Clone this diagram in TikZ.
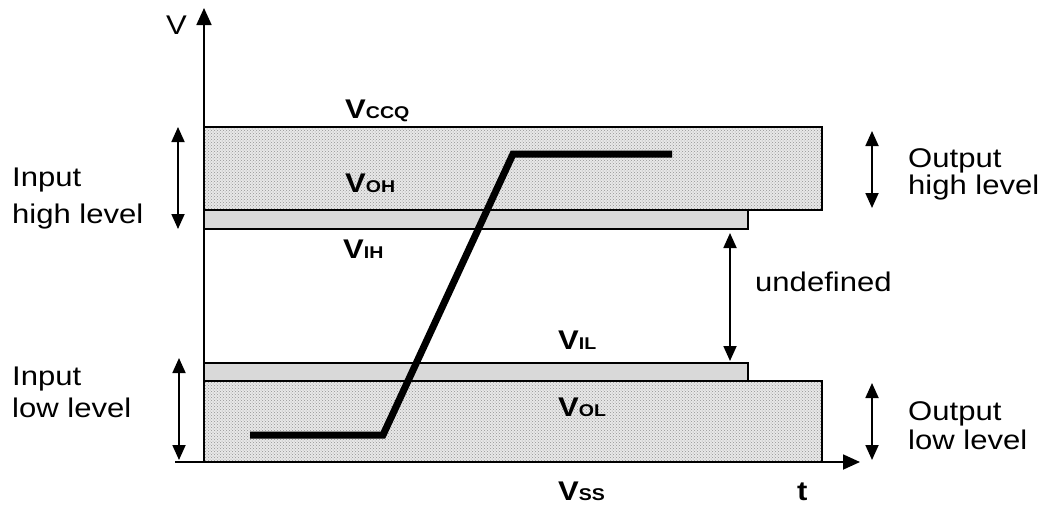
\documentclass[tikz,border=0pt]{standalone}
\usepackage{fontspec}
\setmainfont{Liberation Sans}[FakeStretch=1.15]
\usetikzlibrary{arrows.meta, patterns}

\newcommand{\volt}[1]{\textbf{V{\fontsize{17}{17}\selectfont #1}}}

\tikzset{
    lbl/.style={font=\fontsize{27}{27}\selectfont, inner sep=0pt, anchor=base west},
    vlbl/.style={font=\fontsize{27}{27}\selectfont, inner sep=0pt, anchor=base west},
    level/.style={draw=black, line width=1.5pt, preaction={fill=gray!18}, pattern=crosshatch dots, pattern color=gray!85},
    bar/.style={draw=black, line width=1.5pt, fill=gray!30},
    dbl/.style={{Triangle[length=15pt,width=13pt]}-{Triangle[length=15pt,width=13pt]}, line width=1.8pt},
    axis/.style={-{Triangle[length=17pt,width=15pt]}, line width=1.8pt}
}

\begin{document}
\begin{tikzpicture}[x=1pt, y=-1pt]
    \useasboundingbox (0,0) rectangle (1043,504);

    % Define the level bands
    \draw[level] (204,127) rectangle (822,210);
    \draw[bar] (204,210) rectangle (748,229);
    \draw[bar] (204,363) rectangle (748,381);
    \draw[level] (204,381) rectangle (822,462);

    % Draw the axes
    \coordinate (O) at (204,462);
    \coordinate (Vtop) at (204,8);
    \coordinate (Xl) at (175,462);
    \coordinate (Xr) at (860,462);
    \draw[axis] (O) -- (Vtop);
    \draw[axis] (Xl) -- (Xr);

    % Draw the signal edge
    \coordinate (S0) at (250,435);
    \coordinate (S1) at (383,435);
    \coordinate (S2) at (513,154);
    \coordinate (S3) at (672,154);
    \draw[line width=7pt, miter limit=10] (S0) -- (S1) -- (S2) -- (S3);

    % Draw the level arrows
    \coordinate (IH1) at (178,127);
    \coordinate (IH2) at (178,229);
    \coordinate (IL1) at (179,358);
    \coordinate (IL2) at (179,460);
    \coordinate (OH1) at (872,131);
    \coordinate (OH2) at (872,208);
    \coordinate (OL1) at (872,383);
    \coordinate (OL2) at (872,460);
    \coordinate (U1) at (730,233);
    \coordinate (U2) at (730,361);
    \foreach \a/\b in {IH1/IH2, IL1/IL2, OH1/OH2, OL1/OL2, U1/U2} {
        \draw[dbl] (\a) -- (\b);
    }

    % Voltage labels
    \node[vlbl] (vccq) at (345,118) {\volt{CCQ}};
    \node[vlbl] (voh) at (345,192) {\volt{OH}};
    \node[vlbl] (vih) at (343,258) {\volt{IH}};
    \node[vlbl] (vil) at (558,349) {\volt{IL}};
    \node[vlbl] (vol) at (558,416) {\volt{OL}};
    \node[vlbl] (vss) at (558,500) {\volt{SS}};
    \node[vlbl] (tlbl) at (797,500) {\textbf{t}};
    \node[lbl] (vaxis) at (166,34) {V};

    % Side texts
    \node[lbl] (inhi1) at (12,186) {Input};
    \node[lbl] (inhi2) at (12,223) {high level};
    \node[lbl] (inlo1) at (12,385) {Input};
    \node[lbl] (inlo2) at (12,417) {low level};
    \node[lbl] (outhi1) at (908,167) {Output};
    \node[lbl] (outhi2) at (908,194) {high level};
    \node[lbl] (outlo1) at (908,420) {Output};
    \node[lbl] (outlo2) at (908,449) {low level};
    \node[lbl] (undef) at (755,291) {undefined};
\end{tikzpicture}
\end{document}
